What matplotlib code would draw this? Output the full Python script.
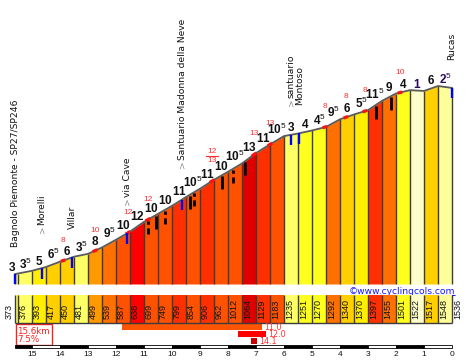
import numpy as np
import matplotlib
matplotlib.use("Agg")
import matplotlib.pyplot as plt
from matplotlib.patches import Rectangle
from matplotlib import transforms as mtrans

plt.rcParams['mathtext.fontset'] = 'custom'
plt.rcParams['mathtext.bf'] = 'Liberation Sans:bold'
plt.rcParams['mathtext.rm'] = 'Liberation Sans'
plt.rcParams['font.family'] = ['DejaVu Sans']

# ---------------- data ----------------
dist_km = [15.6, 15.5, 15.0, 14.5, 14.0, 13.5, 13.0, 12.5, 12.0, 11.5, 11.0,
           10.5, 10.0, 9.5, 9.0, 8.5, 8.0, 7.5, 7.0, 6.5, 6.0, 5.5, 5.0,
           4.5, 4.0, 3.5, 3.0, 2.5, 2.0, 1.5, 1.0, 0.5, 0.0]
elev_m = [373, 376, 393, 417, 450, 481, 499, 539, 587, 638, 699,
          749, 799, 854, 906, 962, 1012, 1064, 1129, 1183, 1235, 1251, 1270,
          1292, 1340, 1370, 1397, 1455, 1501, 1522, 1517, 1548, 1536]
grade_pct = [3, 3.5, 5, 6.5, 6, 3.5, 8, 9.5, 10, 12, 10, 10, 11, 10.5, 11, 10,
             10.5, 13, 11, 10.5, 3, 4, 4.5, 9.5, 6, 5.5, 11.5, 9, 4, -1, 6, -2.5]

place_names = ["Bagnolo Piemonte - SP27/SP246", ">Morelli", "Villar", ">via Cave",
               ">Santuario Madonna della Neve", ">santuario", "Montoso", "Rucas"]
place_km = [15.6, 14.64, 13.57, 11.6, 9.64, 5.75, 5.43, 0.0]
marker_km = [15.6, 14.64, 13.57, 11.6, 9.64, 5.75, 5.46, 0.0]

hairpin_km = [10.86, 10.57, 10.25, 9.36, 9.21, 8.21, 7.82, 7.39, 2.71, 2.18]
hairpin_dashed = [True, False, True, False, True, False, True, False, False, False]

steep_km = [13.89, 12.75, 11.57, 10.86, 8.57, 7.07, 6.5, 4.54, 3.79, 3.11, 1.86]
steep_label = ["8", "10", "12", "12", "12/13", "13", "13", "8", "8", "8", "10"]

climb_length_km = 15.6
climb_avg_pct = 7.5
best_from_km = [11.79, 7.64, 7.18]
best_to_km = [6.79, 6.64, 6.96]
best_avg_pct = [11.0, 12.0, 14.1]

km_ticks = list(range(15, -1, -1))

# ---------------- layout ----------------
W, H = 467, 362
PT = 72.0 / 100.0          # points per pixel
PX_PER_KM = 28.0
X_END = 452.0


def km_at(px):
    return (X_END - px) / PX_PER_KM


XLIM = (km_at(0), km_at(W))

fig = plt.figure(figsize=(W / 100, H / 100), dpi=100)
fig.patch.set_facecolor('white')

ax = fig.add_axes([0, 1 - 284 / H, 1, 284 / H])
ax.set_xlim(XLIM)
ax.set_ylim(310.5, 2085.5)
ax.axis('off')

ax2 = fig.add_axes([0, 0, 1, 1], zorder=-1)
ax2.set_xlim(XLIM)
ax2.set_ylim(H, 0)
ax2.axis('off')
ax2.patch.set_alpha(0)

ax3 = fig.add_axes([0, 0, 1, 1], zorder=-2)
ax3.set_xlim(0, W)
ax3.set_ylim(H, 0)
ax3.axis('off')


def grade_color(g):
    if g < -2:
        return '#FFFF99'
    if g < 0:
        return '#FFFFCC'
    if g < 4:
        return '#FFFF66'
    if g < 5:
        return '#FFFF1E'
    if g < 6:
        return '#FFEE00'
    if g < 7:
        return '#FFCF00'
    if g < 9:
        return '#FF9900'
    if g < 10:
        return '#FF7000'
    if g < 11:
        return '#FF5200'
    if g < 12:
        return '#FF3000'
    if g < 13:
        return '#FF0000'
    return '#E00000'


d_rev = np.array(dist_km[::-1])
e_rev = np.array(elev_m[::-1])


def elev_at(k):
    return np.interp(k, d_rev, e_rev)


base = ax.get_ylim()[0]
nseg = len(grade_pct)

# profile fill
for i in range(nseg):
    ax.fill_between([dist_km[i], dist_km[i + 1]], [elev_m[i], elev_m[i + 1]], base,
                    color=grade_color(grade_pct[i]), lw=0, zorder=1)
# separators
for i, d in enumerate(dist_km):
    if i == 0 or abs(d * 2 - round(d * 2)) < 1e-9:
        ax.vlines(d, base, elev_m[i], color='#3c3c3c', lw=1.0, zorder=2, clip_on=False)
ax.plot(dist_km, elev_m, color='#5a5a5a', lw=1.3, zorder=3, clip_on=False)

# steep bits
for c, lab in zip(steep_km, steep_label):
    xs = np.array([c + 0.08, c - 0.08])
    ax.plot(xs, elev_at(xs), color='#ff1010', lw=2.3, solid_capstyle='butt', zorder=4)
    ec = elev_at(c)
    if '/' in lab:
        top, bot = lab.split('/')
        ax.annotate(top, (c, ec), xytext=(0, 30 * PT), textcoords='offset points',
                    ha='center', va='center', fontsize=6, color='#ff3030',
                    family='Liberation Sans')
        ax.annotate(bot, (c, ec), xytext=(0, 21 * PT), textcoords='offset points',
                    ha='center', va='center', fontsize=6, color='#ff3030',
                    family='Liberation Sans')
        tr = mtrans.offset_copy(ax.transData, fig=fig, x=0, y=25.5 * PT, units='points')
        ax.plot([c + 0.21, c - 0.21], [ec, ec], transform=tr, color='#ff3030', lw=0.8,
                clip_on=False)
    else:
        ax.annotate(lab, (c, ec), xytext=(0, 20.5 * PT), textcoords='offset points',
                    ha='center', va='center', fontsize=6, color='#ff3030',
                    family='Liberation Sans')

# gradient labels
for i in range(nseg):
    g = grade_pct[i]
    a = abs(g)
    whole = int(a)
    if a - whole >= 0.5:
        s = r'$\mathbf{%d}^{\mathrm{5}}$' % whole
    else:
        s = r'$\mathbf{%d}$' % whole
    d0, d1 = dist_km[i], dist_km[i + 1]
    x = (d0 + d1) / 2 if (d0 - d1) >= 0.25 else d0 + 0.12
    y = max(elev_m[i], elev_m[i + 1])
    ax.annotate(s, (x, y), xytext=(0, 2.2 * PT), textcoords='offset points',
                ha='center', va='baseline', fontsize=8.5,
                color='#111111' if g >= 0 else '#2b0a57', zorder=6)

# hairpins
for k, dashed in zip(hairpin_km, hairpin_dashed):
    e = elev_at(k)
    ax.vlines(k, e - 88, e - 6, color='black', lw=2.0,
              linestyles=(0, (2.2, 1.3)) if dashed else 'solid', zorder=5)

# place markers
for k in marker_km:
    e = elev_at(k)
    ax.vlines(k, max(e - 66, base), e, color='#0000ff', lw=1.7, zorder=5, clip_on=False)

# place names
place_lift_px = [27, 35, 28, 28, 32, 29, 28, 28]
renderer = fig.canvas.get_renderer()
for name, k, lift in zip(place_names, place_km, place_lift_px):
    e = elev_at(k)
    off = lift
    if name.startswith('>'):
        t = ax.annotate('>', (k, e), xytext=(0, off * PT), textcoords='offset points',
                        rotation=90, ha='center', va='bottom', fontsize=6.6,
                        color='#8c8c8c')
        off += t.get_window_extent(renderer).height + 0.3
        name = name[1:]
    ax.annotate(name, (k, e), xytext=(0, off * PT), textcoords='offset points',
                rotation=90, ha='center', va='bottom', fontsize=6.6, color='#111111')

# ---------------- elevation strip ----------------
for i in range(nseg):
    ax2.add_patch(Rectangle((dist_km[i + 1], 295), dist_km[i] - dist_km[i + 1], 28,
                            fc=grade_color(grade_pct[i]), ec='none', lw=0))
for i, d in enumerate(dist_km):
    if i == 0 or abs(d * 2 - round(d * 2)) < 1e-9:
        ax2.vlines(d, 295, 323, color='#3c3c3c', lw=1.0)
ax2.hlines(323, dist_km[0], dist_km[-1], color='#3c3c3c', lw=1.0)
for i, (d, e) in enumerate(zip(dist_km, elev_m)):
    if i == 0:
        ax2.annotate(str(e), (d, 319), xytext=(-1.5 * PT, 0), textcoords='offset points',
                     rotation=90, ha='right', va='bottom', fontsize=6.5,
                     family='Liberation Sans', color='#111111')
    else:
        ax2.annotate(str(e), (d, 319), xytext=(1.0 * PT, 0), textcoords='offset points',
                     rotation=90, ha='left', va='bottom', fontsize=6.5,
                     family='Liberation Sans', color='#111111')

# copyright
ax3.text(455, 293.5, '\u00a9www.cyclingcols.com', ha='right', va='baseline',
         fontsize=6.6, color='#1515ff')
ax3.hlines(294.6, 349, 455, color='#1515ff', lw=0.8)

# ---------------- legend ----------------
ax3.add_patch(Rectangle((15.5, 324), 36.5, 20.5, fill=False, ec='#ff2020', lw=1.0))
ax3.text(17.5, 331, '%.1fkm' % climb_length_km, ha='left', va='center', fontsize=6.3,
         color='#ff2020')
ax3.text(17.5, 339.5, '%.1f%%' % climb_avg_pct, ha='left', va='center', fontsize=6.3,
         color='#ff2020')
row_y = [324, 331, 338]
best_colors = ['#FF5500', '#FF0000', '#CC0000']
for f, t, v, ry, col in zip(best_from_km, best_to_km, best_avg_pct, row_y, best_colors):
    ax2.add_patch(Rectangle((t, ry), f - t, 6, fc=col, ec='none'))
    ax2.annotate('%.1f' % v, (t, ry + 3.2), xytext=(2 * PT, 0), textcoords='offset points',
                 ha='left', va='center', fontsize=5.8, color='#ff3030')

# ---------------- km scale ----------------
edges = [dist_km[0]] + km_ticks
for j in range(len(edges) - 1):
    a, b = edges[j], edges[j + 1]
    ax2.add_patch(Rectangle((b, 344.5), a - b, 3.5, fc='black' if j % 2 == 0 else 'white',
                            ec='black', lw=0.6))
for k in km_ticks:
    ax2.text(k, 355, str(k), ha='center', va='center', fontsize=6,
             family='Liberation Sans', color='#111111')

fig.savefig('out.png', dpi=100, facecolor='white')
